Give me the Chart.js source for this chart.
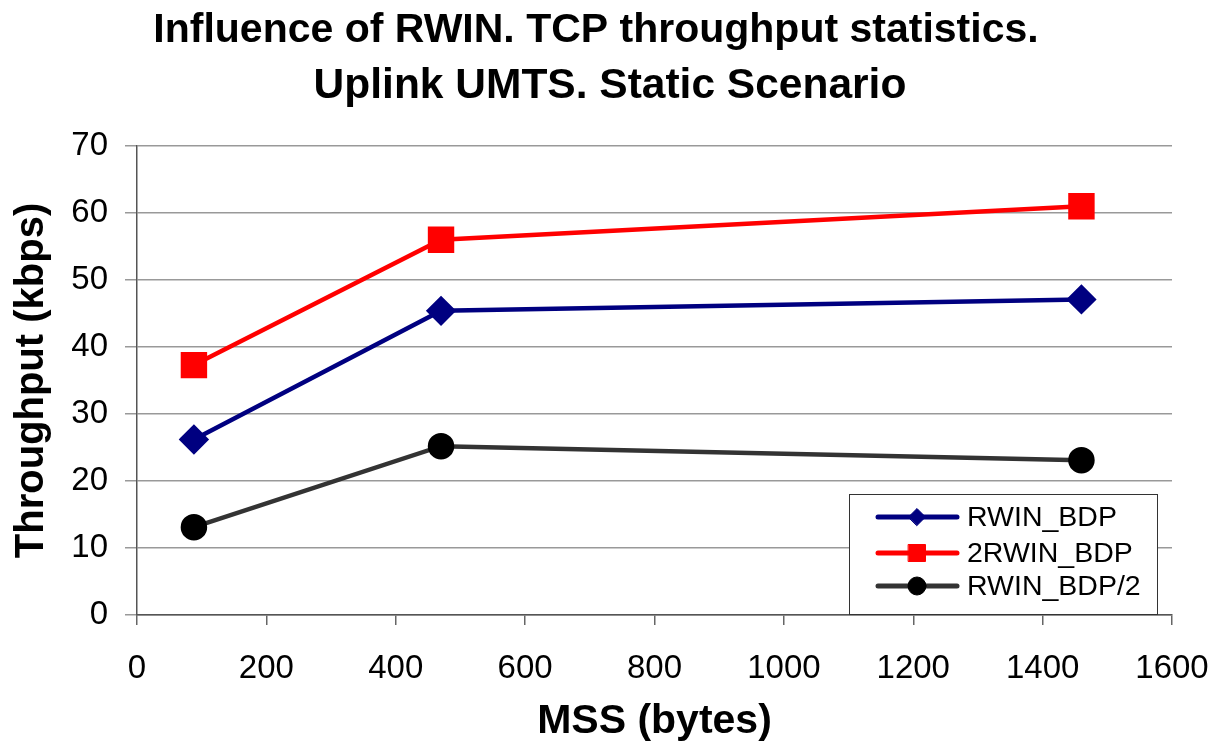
<!DOCTYPE html>
<html>
<head>
<meta charset="utf-8">
<script src="https://cdn.jsdelivr.net/npm/chart.js@4/dist/chart.umd.min.js"></script>
<style>
html,body{margin:0;padding:0;background:#fff;}
#wrap{width:1222px;height:747px;}
</style>
</head>
<body>
<div id="wrap"><canvas id="c" width="1222" height="747"></canvas></div>
<script>
const titleLines = ["Influence of RWIN. TCP throughput statistics.", "Uplink UMTS. Static Scenario"];
const xTitle = "MSS (bytes)";
const yTitle = "Throughput (kbps)";
const mss = [88, 470, 1460];
const rwinBdp = [26.2, 45.4, 47.1];
const twoRwinBdp = [37.3, 56.0, 61.0];
const rwinBdpHalf = [13.1, 25.2, 23.1];
const seriesNames = ["RWIN_BDP", "2RWIN_BDP", "RWIN_BDP/2"];
const xTicks = [0, 200, 400, 600, 800, 1000, 1200, 1400, 1600];
const yTicks = [0, 10, 20, 30, 40, 50, 60, 70];

const FONT = "'Liberation Sans', Arial, sans-serif";

function pts(arr){ return arr.map((v,i)=>({x: mss[i], y: v})); }

const titlePlugin = {
  id: 'twoLineTitle',
  afterDraw(chart){
    const ctx = chart.ctx;
    ctx.save();
    ctx.fillStyle = '#000';
    ctx.font = "bold 41px " + FONT;
    ctx.textAlign = 'center';
    ctx.textBaseline = 'middle';
    ctx.fillText(titleLines[0], 596, 31);
    ctx.font = "bold 42.5px " + FONT;
    ctx.fillText(titleLines[1], 610, 86);
    ctx.restore();
  }
};

const legendMarkerRadius = [8.5, 12, 9];
const legendPlugin = {
  id: 'boxLegend',
  afterDraw(chart){
    const ctx = chart.ctx;
    const bx = 849.5, by = 494.5, bw = 308, bh = 120;
    ctx.save();
    ctx.fillStyle = '#fff';
    ctx.fillRect(bx, by, bw, bh);
    ctx.strokeStyle = '#333';
    ctx.lineWidth = 1;
    ctx.strokeRect(bx, by, bw, bh);
    const rows = [517, 553, 586];
    chart.data.datasets.forEach((ds, i) => {
      const y = rows[i];
      ctx.strokeStyle = ds.borderColor;
      ctx.lineWidth = 5;
      ctx.lineCap = 'round';
      ctx.beginPath();
      ctx.moveTo(878, y);
      ctx.lineTo(957, y);
      ctx.stroke();
      ctx.fillStyle = ds.pointBackgroundColor;
      ctx.strokeStyle = ds.pointBorderColor;
      ctx.lineWidth = 1;
      Chart.helpers.drawPoint(ctx, {pointStyle: ds.pointStyle, radius: legendMarkerRadius[i], borderWidth: 1, rotation: 0}, 917, y);
      ctx.fillStyle = '#000';
      ctx.font = "28.5px " + FONT;
      ctx.textAlign = 'left';
      ctx.textBaseline = 'middle';
      ctx.fillText(ds.label, 967, y + 1);
    });
    ctx.restore();
  }
};

new Chart(document.getElementById('c'), {
  type: 'line',
  data: {
    datasets: [
      {label: seriesNames[0], data: pts(rwinBdp), borderColor: '#000080', backgroundColor: '#000080',
       pointBackgroundColor: '#000080', pointBorderColor: '#000080', pointStyle: 'rectRot', pointRadius: 12, borderWidth: 4.5},
      {label: seriesNames[1], data: pts(twoRwinBdp), borderColor: '#ff0000', backgroundColor: '#ff0000',
       pointBackgroundColor: '#ff0000', pointBorderColor: '#ff0000', pointStyle: 'rect', pointRadius: 15.5, borderWidth: 4.5},
      {label: seriesNames[2], data: pts(rwinBdpHalf), borderColor: '#333333', backgroundColor: '#000',
       pointBackgroundColor: '#000', pointBorderColor: '#000', pointStyle: 'circle', pointRadius: 11, borderWidth: 4.5}
    ]
  },
  options: {
    responsive: false,
    animation: false,
    devicePixelRatio: 1,
    layout: {padding: {left: 0, right: 50, top: 146, bottom: 0}},
    plugins: {
      legend: {display: false},
      tooltip: {enabled: false},
      title: {display: false}
    },
    scales: {
      x: {
        type: 'linear',
        min: 0, max: 1600,
        afterBuildTicks(s){ s.ticks = xTicks.map(v=>({value:v})); },
        afterFit(s){ s.height = 132; s.paddingLeft = 0; s.paddingRight = 0; },
        ticks: {color: '#000', font: {family: FONT, size: 33}, padding: 24, maxRotation: 0,
                callback: v => String(v)},
        grid: {drawOnChartArea: false, drawTicks: true, tickLength: 10, color: '#666', lineWidth: 1.5},
        border: {display: true, color: '#555', width: 1.5},
        title: {display: true, text: xTitle, color: '#000', font: {family: FONT, size: 41, weight: 'bold'}, padding: {top: 0, bottom: 1}}
      },
      y: {
        type: 'linear',
        min: 0, max: 70,
        afterBuildTicks(s){ s.ticks = yTicks.map(v=>({value:v})); },
        afterFit(s){ s.width = 137; s.paddingTop = 0; s.paddingBottom = 0; },
        ticks: {color: '#000', font: {family: FONT, size: 33}, padding: 17, callback: v => String(v)},
        grid: {drawOnChartArea: true, drawTicks: true, tickLength: 12, color: '#999', lineWidth: 1.5},
        border: {display: true, color: '#555', width: 1.5},
        title: {display: true, text: yTitle, color: '#000', font: {family: FONT, size: 40, weight: 'bold'}, padding: {top: 8, bottom: 0}}
      }
    }
  },
  plugins: [titlePlugin, legendPlugin]
});
</script>
</body>
</html>
